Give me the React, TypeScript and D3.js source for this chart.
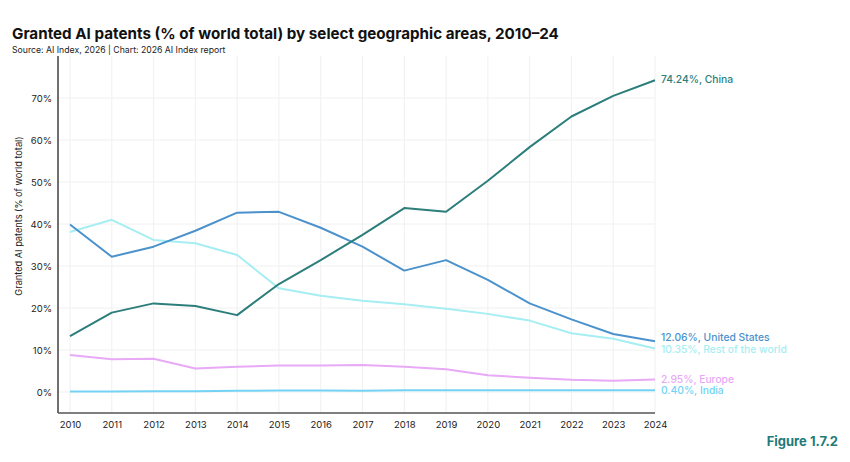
import { useEffect, useRef } from 'react';
import * as d3 from 'd3';

const years = [2010, 2011, 2012, 2013, 2014, 2015, 2016, 2017, 2018, 2019, 2020, 2021, 2022, 2023, 2024];

const china = [13.3, 18.9, 21.1, 20.5, 18.3, 25.7, 31.4, 37.4, 43.8, 42.9, 50.3, 58.3, 65.6, 70.5, 74.24];
const unitedStates = [39.9, 32.2, 34.6, 38.4, 42.7, 42.9, 39.1, 34.6, 28.9, 31.4, 26.7, 21.1, 17.3, 13.8, 12.06];
const restOfWorld = [38.1, 41.0, 36.2, 35.4, 32.6, 24.7, 22.9, 21.7, 20.9, 19.8, 18.6, 17.0, 14.0, 12.7, 10.35];
const europe = [8.8, 7.8, 7.9, 5.6, 6.0, 6.3, 6.3, 6.4, 6.0, 5.4, 4.0, 3.4, 2.9, 2.7, 2.95];
const india = [0.1, 0.1, 0.15, 0.15, 0.3, 0.35, 0.35, 0.3, 0.4, 0.4, 0.4, 0.4, 0.4, 0.4, 0.4];

const yTicks = [0, 10, 20, 30, 40, 50, 60, 70];

const series = [
  { name: 'Rest of the world', values: restOfWorld, color: '#a6eef2', labelDy: 4 },
  { name: 'India', values: india, color: '#74d3f5', labelDy: 4 },
  { name: 'Europe', values: europe, color: '#e8a9f6', labelDy: 3 },
  { name: 'United States', values: unitedStates, color: '#4b92cc', labelDy: 0 },
  { name: 'China', values: china, color: '#2c7e7a', labelDy: 3 },
];

function App() {
  const svgRef = useRef<SVGSVGElement>(null);

  useEffect(() => {
    if (!svgRef.current) return;
    const svg = d3.select(svgRef.current);
    svg.selectAll('*').remove();

    const font = 'Inter, "Open Sans", sans-serif';
    const left = 58;
    const right = 655;
    const bottom = 413;
    const top = 56;

    const x = d3.scaleLinear().domain([2010, 2024]).range([70, right]);
    const y = d3.scaleLinear().domain([-5, 80]).range([bottom, top]);

    // Title
    svg.append('text')
      .attr('x', 12).attr('y', 39)
      .attr('font-family', font).attr('font-size', 15.2).attr('font-weight', 700)
      .attr('fill', '#111')
      .text('Granted AI patents (% of world total) by select geographic areas, 2010–24');
    svg.append('text')
      .attr('x', 12).attr('y', 53)
      .attr('font-family', font).attr('font-size', 8.7)
      .attr('fill', '#222')
      .text('Source: AI Index, 2026 | Chart: 2026 AI Index report');

    // Grid
    const g = svg.append('g');
    g.selectAll('.vgrid').data(years).enter().append('line')
      .attr('x1', d => x(d)).attr('x2', d => x(d))
      .attr('y1', top).attr('y2', bottom)
      .attr('stroke', '#f0f0f0').attr('stroke-width', 1);
    g.selectAll('.hgrid').data(yTicks).enter().append('line')
      .attr('x1', left).attr('x2', right)
      .attr('y1', d => y(d)).attr('y2', d => y(d))
      .attr('stroke', '#f0f0f0').attr('stroke-width', 1);

    // Axes
    const yAxis = svg.append('g')
      .attr('transform', `translate(${left},0)`)
      .call(d3.axisLeft(y).tickValues(yTicks).tickSize(0).tickPadding(6).tickFormat(d => `${d}%`));
    yAxis.select('.domain').remove();
    yAxis.selectAll('text').attr('font-family', font).attr('font-size', 9.5).attr('fill', '#222');

    const xAxis = svg.append('g')
      .attr('transform', `translate(0,${bottom})`)
      .call(d3.axisBottom(x).tickValues(years).tickSize(0).tickPadding(8).tickFormat(d3.format('d')));
    xAxis.select('.domain').remove();
    xAxis.selectAll('text').attr('font-family', font).attr('font-size', 9.5).attr('fill', '#222');

    svg.append('line')
      .attr('x1', left).attr('x2', left).attr('y1', top).attr('y2', bottom)
      .attr('stroke', '#222').attr('stroke-width', 1.3);
    svg.append('line')
      .attr('x1', left).attr('x2', right).attr('y1', bottom).attr('y2', bottom)
      .attr('stroke', '#555').attr('stroke-width', 1.3);

    // Y axis title
    svg.append('text')
      .attr('transform', `translate(22,216) rotate(-90)`)
      .attr('text-anchor', 'middle')
      .attr('font-family', font).attr('font-size', 9.2).attr('fill', '#222')
      .text('Granted AI patents (% of world total)');

    // Lines
    const line = d3.line<number>()
      .x((_, i) => x(years[i]))
      .y(d => y(d));

    series.forEach(s => {
      svg.append('path')
        .datum(s.values)
        .attr('fill', 'none')
        .attr('stroke', s.color)
        .attr('stroke-width', 2)
        .attr('stroke-linejoin', 'round')
        .attr('d', line);

      const last = s.values[s.values.length - 1];
      svg.append('text')
        .attr('x', x(2024) + 6)
        .attr('y', y(last) + s.labelDy)
        .attr('font-family', font).attr('font-size', 10.3).attr('font-weight', 500)
        .attr('fill', s.color)
        .text(`${last.toFixed(2)}%, ${s.name}`);
    });

    svg.append('text')
      .attr('x', 838).attr('y', 446)
      .attr('text-anchor', 'end')
      .attr('font-family', font).attr('font-size', 13).attr('font-weight', 700)
      .attr('fill', '#1f7a7a')
      .text('Figure 1.7.2');
  }, []);

  return (
    <svg ref={svgRef} width={850} height={462} style={{ position: 'absolute', left: 0, top: 0, background: '#fff' }} />
  );
}

export default App;
